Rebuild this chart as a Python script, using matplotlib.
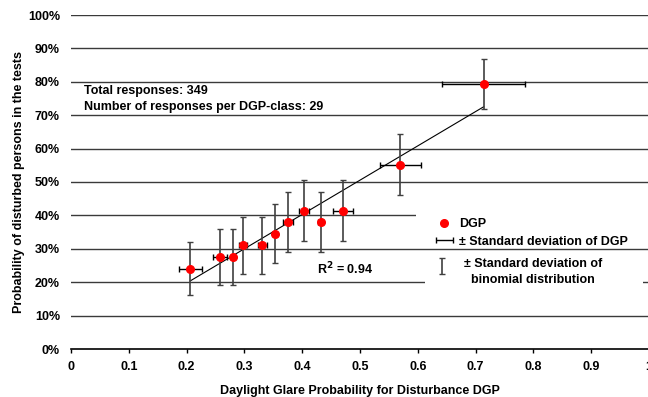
import numpy as np
import matplotlib
matplotlib.use('Agg')
import matplotlib.pyplot as plt
from matplotlib.legend_handler import HandlerErrorbar
from matplotlib.patches import Rectangle
from matplotlib.ticker import FuncFormatter

plt.rcParams['font.family'] = ['Liberation Sans', 'DejaVu Sans']
plt.rcParams['font.weight'] = 'bold'
plt.rcParams['axes.labelweight'] = 'bold'
plt.rcParams['font.size'] = 9

# values
dgp = [0.206, 0.258, 0.280, 0.298, 0.331, 0.353, 0.375, 0.403, 0.432, 0.471, 0.570, 0.714]
prob = [0.241, 0.276, 0.276, 0.310, 0.310, 0.345, 0.379, 0.414, 0.379, 0.414, 0.552, 0.793]
dgp_std = [0.020, 0.012, 0.004, 0.007, 0.008, 0.004, 0.009, 0.008, 0.004, 0.017, 0.035, 0.072]
binom_std = [0.079, 0.083, 0.083, 0.086, 0.086, 0.088, 0.090, 0.091, 0.090, 0.091, 0.092, 0.075]

fit_slope = 1.027
fit_intercept = -0.008
r_squared = 0.94

x_ticks = [0, 0.1, 0.2, 0.3, 0.4, 0.5, 0.6, 0.7, 0.8, 0.9, 1.0]
y_ticks = [0, 0.1, 0.2, 0.3, 0.4, 0.5, 0.6, 0.7, 0.8, 0.9, 1.0]


class RaisedErrorbar(HandlerErrorbar):
    # errorbar legend handle moved up by `lift` points
    def __init__(self, lift=0, **kw):
        super().__init__(**kw)
        self.lift = lift

    def create_artists(self, legend, orig_handle, xdescent, ydescent, width,
                       height, fontsize, trans):
        return super().create_artists(legend, orig_handle, xdescent,
                                      ydescent - 2 * self.lift, width, height,
                                      fontsize, trans)


fig = plt.figure(figsize=(6.48, 3.97), dpi=100)
ax = fig.add_axes([71 / 648, 48 / 397, 578 / 648, 334 / 397])

for yt in y_ticks[1:]:
    ax.axhline(yt, color='#3a3a3a', lw=1.0, zorder=1)

# regression line over the data range
fx = np.array([min(dgp), max(dgp)])
ax.plot(fx, fit_slope * fx + fit_intercept, color='black', lw=0.8, zorder=2)

ebin = ax.errorbar(dgp, prob, yerr=binom_std, fmt='none', ecolor='#404040',
                   elinewidth=1.2, capsize=2.0, capthick=1.0, zorder=3)
edgp = ax.errorbar(dgp, prob, xerr=dgp_std, fmt='none', ecolor='black',
                   elinewidth=1.0, capsize=2.0, capthick=1.0, zorder=3)
pts, = ax.plot(dgp, prob, 'o', color='red', ms=5.5, ls='none', zorder=4)

ax.set_xlim(0, 1)
ax.set_ylim(0, 1)
ax.set_xticks(x_ticks)
ax.set_yticks(y_ticks)
ax.xaxis.set_major_formatter(FuncFormatter(lambda v, p: f'{v:g}'))
ax.yaxis.set_major_formatter(FuncFormatter(lambda v, p: f'{v * 100:.0f}%'))
ax.tick_params(axis='y', length=0, pad=8)
ax.tick_params(axis='x', length=3, width=1, pad=6, direction='out')
for s in ['top', 'right', 'left']:
    ax.spines[s].set_visible(False)
ax.spines['bottom'].set_linewidth(1.2)

ax.set_xlabel('Daylight Glare Probability for Disturbance DGP', labelpad=8)
ax.set_ylabel('Probability of disturbed persons in the tests', labelpad=2)

ax.text(0.022, 0.763, 'Total responses: 349', fontsize=9)
ax.text(0.022, 0.716, 'Number of responses per DGP-class: 29', fontsize=9)
ax.text(0.474, 0.24, r'R$^{\mathbf{2}}$ = ' + f'{r_squared:.2f}', fontsize=9,
        ha='center', va='center')

# white text-box backgrounds behind the legend entries
ax.add_patch(Rectangle((0.597, 0.308), 0.41, 0.126, transform=ax.transAxes,
                       facecolor='white', edgecolor='none', zorder=5, clip_on=False))
ax.add_patch(Rectangle((0.6125, 0.159), 0.3775, 0.125, transform=ax.transAxes,
                       facecolor='white', edgecolor='none', zorder=5, clip_on=False))

leg1 = ax.legend([pts, edgp], ['DGP', '± Standard deviation of DGP'],
                 loc='upper left', bbox_to_anchor=(0.622, 0.403),
                 handler_map={type(edgp): HandlerErrorbar(xerr_size=0.7)},
                 frameon=False, handlelength=1.6, handletextpad=0.35,
                 borderpad=0.3, labelspacing=0.45, borderaxespad=0, numpoints=1)
leg1.set_zorder(6)
ax.add_artist(leg1)
leg2 = ax.legend([ebin], ['± Standard deviation of\nbinomial distribution'],
                 loc='upper left', bbox_to_anchor=(0.624, 0.285),
                 handler_map={type(ebin): RaisedErrorbar(lift=4.5, yerr_size=0.65)},
                 frameon=False, handlelength=1.0, handletextpad=1.3,
                 borderpad=0.3, borderaxespad=0)
leg2.set_zorder(6)
for t in leg2.get_texts():
    t.set_multialignment('center')
    t.set_linespacing(1.5)

fig.savefig('out.png', dpi=100)
